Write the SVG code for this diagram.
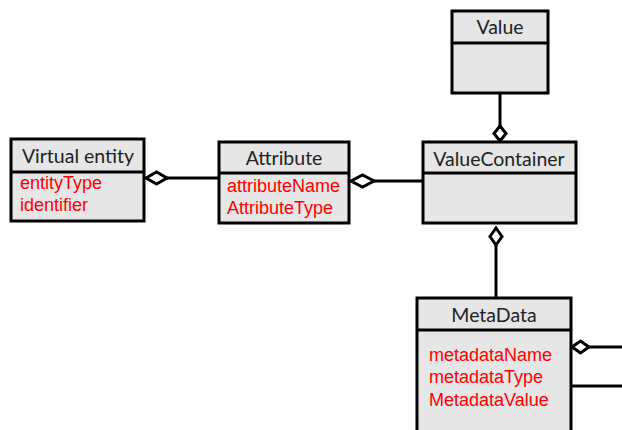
<svg xmlns="http://www.w3.org/2000/svg" width="622" height="430" viewBox="0 0 622 430">
<style>
.box{fill:#e6e6e6;stroke:#000;stroke-width:3}
.div{stroke:#000;stroke-width:3}
.t{font-family:Lato,"Open Sans",sans-serif;font-size:19.5px;fill:#222;text-anchor:middle}
.a{font-family:"Liberation Sans",Arial,sans-serif;font-size:18px;fill:#ff0000}
.ln{stroke:#000;stroke-width:3;fill:none}
.dm{fill:#fff;stroke:#000;stroke-width:3;stroke-linejoin:miter}
</style>
<rect width="622" height="430" fill="#fff"/>
<g id="connectors">
<line class="ln" x1="167" y1="178" x2="219" y2="178"/>
<polygon class="dm" points="146,178 156.5,172 167,178 156.5,184"/>
<line class="ln" x1="374" y1="181" x2="423" y2="181"/>
<polygon class="dm" points="351,181 362.5,175 374,181 362.5,187"/>
<line class="ln" x1="500" y1="93" x2="500" y2="126"/>
<polygon class="dm" points="500,126 506,133.5 500,141 494,133.5"/>
<line class="ln" x1="496" y1="245" x2="496" y2="298"/>
<polygon class="dm" points="496,228 502,236.5 496,245 490,236.5"/>
<line class="ln" x1="589" y1="347" x2="622" y2="347"/>
<polygon class="dm" points="572,347 580.5,341 589,347 580.5,353"/>
<line class="ln" x1="571" y1="386" x2="622" y2="386"/>
</g>
<g id="virtual-entity">
<rect class="box" x="11" y="139" width="133" height="82"/>
<line class="div" x1="11" y1="172" x2="144" y2="172"/>
<text class="t" x="78" y="163">Virtual entity</text>
<text class="a" x="20" y="189">entityType</text>
<text class="a" x="20" y="211">identifier</text>
</g>
<g id="attribute">
<rect class="box" x="219" y="142" width="130" height="81"/>
<line class="div" x1="219" y1="173" x2="349" y2="173"/>
<text class="t" x="284" y="165">Attribute</text>
<text class="a" x="227" y="192">attributeName</text>
<text class="a" x="227" y="214">AttributeType</text>
</g>
<g id="value">
<rect class="box" x="452" y="11" width="96" height="82"/>
<line class="div" x1="452" y1="43" x2="548" y2="43"/>
<text class="t" x="500" y="34">Value</text>
</g>
<g id="value-container">
<rect class="box" x="423" y="142" width="153" height="81"/>
<line class="div" x1="423" y1="173" x2="576" y2="173"/>
<text class="t" x="499" y="166">ValueContainer</text>
</g>
<g id="metadata">
<rect class="box" x="417" y="298" width="154" height="150"/>
<line class="div" x1="417" y1="330" x2="571" y2="330"/>
<text class="t" x="494" y="322">MetaData</text>
<text class="a" x="429" y="361">metadataName</text>
<text class="a" x="429" y="383">metadataType</text>
<text class="a" x="429" y="406">MetadataValue</text>
</g>
</svg>
